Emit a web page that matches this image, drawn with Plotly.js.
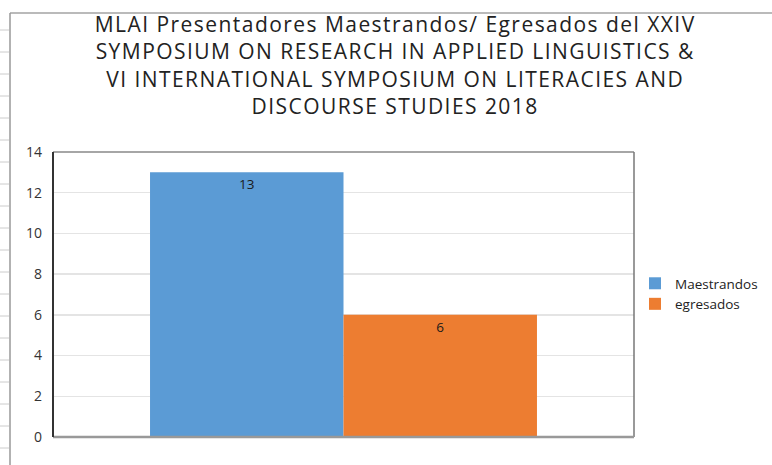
<!DOCTYPE html>
<html><head><meta charset="utf-8">
<script src="https://cdn.plot.ly/plotly-3.0.1.min.js"></script>
<style>
html,body{margin:0;padding:0;background:#fff;}
#chart{width:772px;height:465px;}
#chart .annotation-text{letter-spacing:1.45px;}
</style>
</head><body><div id="chart"></div>
<script>
const category = ["Total"];
const seriesNames = ["Maestrandos", "egresados"];
const maestrandos = [13];
const egresados = [6];
const yTicks = [0, 2, 4, 6, 8, 10, 12, 14];
const titleLines = [
  "MLAI Presentadores Maestrandos/ Egresados del XXIV",
  "SYMPOSIUM ON RESEARCH IN APPLIED LINGUISTICS &",
  "VI INTERNATIONAL SYMPOSIUM ON LITERACIES AND",
  "DISCOURSE STUDIES 2018"
];

const colors = ["#5B9BD5", "#ED7D31"];
const values = [maestrandos, egresados];
const traces = seriesNames.map((n, i) => ({
  type: "bar", name: n, x: category, y: values[i],
  marker: {color: colors[i], line: {width: 0}},
  text: values[i].map(String), textposition: "inside", insidetextanchor: "end",
  textfont: {family: "Open Sans, sans-serif", size: 13.5, color: "#1a1a1a"},
  cliponaxis: false
}));

const W = 772, H = 465, L = 53, R = 138, T = 152, B = 28;
const pw = W - L - R, ph = H - T - B;
const px = x => (x - L) / pw, py = y => (H - B - y) / ph;

const shapes = [
  {type:"line", xref:"paper", yref:"paper", x0:0, x1:1, y0:1, y1:1, line:{color:"#888", width:1.5}},
  {type:"line", xref:"paper", yref:"paper", x0:1, x1:1, y0:0, y1:1, line:{color:"#777", width:1.5}},
  {type:"line", xref:"paper", yref:"paper", x0:0, x1:1, y0:0, y1:0, line:{color:"#999", width:2.5}},
  {type:"line", xref:"paper", yref:"paper", x0:0, x1:0, y0:0, y1:1, line:{color:"#333", width:2}}
];
// spreadsheet frame decoration
shapes.push({type:"line", xref:"paper", yref:"paper", x0:px(10), x1:px(772), y0:py(13), y1:py(13), line:{color:"#777", width:1.2}});
shapes.push({type:"line", xref:"paper", yref:"paper", x0:px(10), x1:px(10), y0:py(13), y1:py(465), line:{color:"#999", width:1.5}});
[30, 52, 74, 96, 118, 140, 162, 184, 206, 228, 250, 272, 294, 316, 338, 360, 382, 404, 426, 448].forEach(y => {
  shapes.push({type:"line", xref:"paper", yref:"paper", x0:px(0), x1:px(9), y0:py(y), y1:py(y), line:{color:"#ccc", width:1}});
});

const annotations = [{
  text: titleLines.join("<br>"), xref: "paper", yref: "paper", x: px(395), y: py(65),
  xanchor: "center", yanchor: "middle", showarrow: false, align: "center",
  font: {family: "Open Sans, sans-serif", size: 21, color: "#222"}
}];

const layout = {
  width: W, height: H,
  margin: {l: L, r: R, t: T, b: B, pad: 0, autoexpand: false},
  paper_bgcolor: "#fff", plot_bgcolor: "#fff",
  font: {family: "Open Sans, sans-serif", color: "#333"},
  barmode: "group", bargap: 0.334, bargroupgap: 0,
  xaxis: {showticklabels: false, showgrid: false, zeroline: false, showline: false, range: [-0.5, 0.5], fixedrange: true},
  yaxis: {range: [0, 14], tickvals: yTicks, ticktext: yTicks.map(String), showgrid: true, gridcolor: "#e4e4e4", gridwidth: 1.5,
    zeroline: false, showline: false, ticks: "", ticklabelstandoff: 10,
    tickfont: {family: "Open Sans, sans-serif", size: 14, color: "#333"}},
  showlegend: true,
  legend: {x: px(635), xanchor: "left", y: py(294), yanchor: "middle", bgcolor: "rgba(0,0,0,0)",
    font: {family: "Open Sans, sans-serif", size: 13.5, color: "#222"}, itemwidth: 30, tracegroupgap: 0},
  annotations: annotations,
  shapes: shapes
};
Plotly.newPlot("chart", traces, layout, {displayModeBar: false, staticPlot: true});
</script></body></html>
